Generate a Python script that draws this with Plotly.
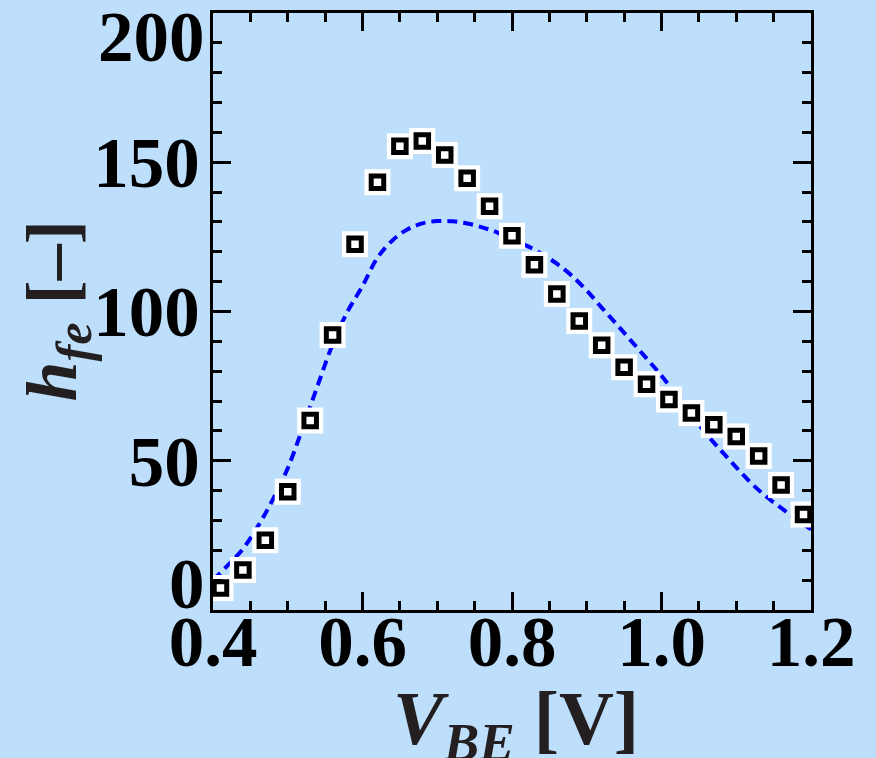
import plotly.graph_objects as go

# measured data (markers)
vbe_meas = [0.41, 0.44, 0.47, 0.50, 0.53, 0.56, 0.59, 0.62, 0.65, 0.68, 0.71, 0.74, 0.77, 0.80,
            0.83, 0.86, 0.89, 0.92, 0.95, 0.98, 1.01, 1.04, 1.07, 1.10, 1.13, 1.16, 1.19]
hfe_meas = [7.4, 13.4, 23.4, 39.6, 63.5, 92.1, 122.5, 143.3, 155.4, 157.1, 152.4, 144.6, 135.3, 125.4,
            115.7, 105.9, 96.8, 88.7, 81.3, 75.6, 70.5, 66.0, 62.1, 58.1, 51.6, 41.9, 32.0]

# model curve (dashed line)
vbe_model = [0.40, 0.42, 0.44, 0.46, 0.48, 0.50, 0.52, 0.54, 0.56, 0.58, 0.60, 0.62, 0.64, 0.66, 0.68,
             0.70, 0.72, 0.74, 0.76, 0.78, 0.80, 0.82, 0.84, 0.86, 0.88, 0.90, 0.92, 0.94, 0.96, 0.98,
             1.00, 1.02, 1.04, 1.06, 1.08, 1.10, 1.12, 1.14, 1.16, 1.18, 1.20]
hfe_model = [10.0, 15.0, 20.5, 28.0, 37.0, 47.5, 61.0, 75.2, 89.0, 100.0, 108.5, 118.0, 123.8, 127.5, 129.5,
             130.3, 130.2, 129.5, 128.2, 126.5, 124.2, 122.0, 119.3, 116.0, 112.0, 107.0, 101.3, 95.7, 90.0, 84.3,
             78.5, 72.0, 65.2, 59.0, 53.3, 47.8, 42.5, 38.0, 34.2, 30.5, 27.0]

x_ticks = [0.4, 0.6, 0.8, 1.0, 1.2]
x_ticktext = ["0.4", "0.6", "0.8", "1.0", "1.2"]
y_ticks = [0, 50, 100, 150, 200]
y_ticktext = ["", "50", "100", "150", ""]

x_title = "<i>V</i><sub><i>BE</i></sub> [V]"
y_title = "<i>h</i><sub><i>fe</i></sub> [\u2013]"

BG = "#BEDFFC"
FONT = "Liberation Serif"
tickfont = dict(family=FONT, size=71, color="black", weight="bold")
titlefont = dict(family=FONT, size=76, color="#231F20", weight="bold")

fig = go.Figure()
fig.add_trace(go.Scatter(x=vbe_model, y=hfe_model, mode="lines", line_shape="spline",
                         line=dict(color="#0000FF", width=4, dash="10px,6px"),
                         hoverinfo="skip", showlegend=False))
fig.add_trace(go.Scatter(x=vbe_meas, y=hfe_meas, mode="markers",
                         marker=dict(symbol="square", size=20, color="white",
                                     line=dict(color="white", width=6)),
                         hoverinfo="skip", showlegend=False))
fig.add_trace(go.Scatter(x=vbe_meas, y=hfe_meas, mode="markers",
                         marker=dict(symbol="square", size=12.5, color="white",
                                     line=dict(color="black", width=5)),
                         showlegend=False))

axis_common = dict(showline=True, linecolor="black", linewidth=3, mirror="allticks",
                   ticks="inside", ticklen=18, tickwidth=2.5, tickcolor="black",
                   showgrid=False, zeroline=False, tickfont=tickfont, automargin=False)

fig.update_xaxes(range=[0.4, 1.2], tickvals=x_ticks, ticktext=x_ticktext, ticklabelstandoff=-32,
                 minor=dict(dtick=0.05, ticks="inside", ticklen=9, tickwidth=2.5, tickcolor="black", showgrid=False),
                 **axis_common)
fig.update_yaxes(range=[0, 200], tickvals=y_ticks, ticktext=y_ticktext, ticklabelstandoff=-4,
                 minor=dict(dtick=10, ticks="inside", ticklen=9, tickwidth=2.5, tickcolor="black", showgrid=False),
                 **axis_common)

# axis titles
fig.add_annotation(x=0.5, xref="paper", y=0, yref="paper", text=x_title,
                   showarrow=False, xanchor="center", yanchor="top", yshift=-64, xshift=4,
                   font=titlefont)
fig.add_annotation(x=0, xref="paper", y=0.5, yref="paper", text=y_title, textangle=-90,
                   showarrow=False, xanchor="right", yanchor="middle", xshift=-110,
                   font=dict(family=FONT, size=72, color="#231F20", weight="bold"))

# end labels of the y axis, drawn inside the axis span as in the original
fig.add_annotation(x=0, xref="paper", y=y_ticks[0], yref="y", text="0", showarrow=False,
                   xanchor="right", yanchor="middle", xshift=-6, yshift=26, font=tickfont)
fig.add_annotation(x=0, xref="paper", y=y_ticks[-1], yref="y", text="200", showarrow=False,
                   xanchor="right", yanchor="middle", xshift=-6, yshift=-24, font=tickfont)

fig.update_layout(width=876, height=758, margin=dict(l=213, r=65, t=13, b=148),
                  paper_bgcolor=BG, plot_bgcolor=BG)

fig.write_html("out.html")
